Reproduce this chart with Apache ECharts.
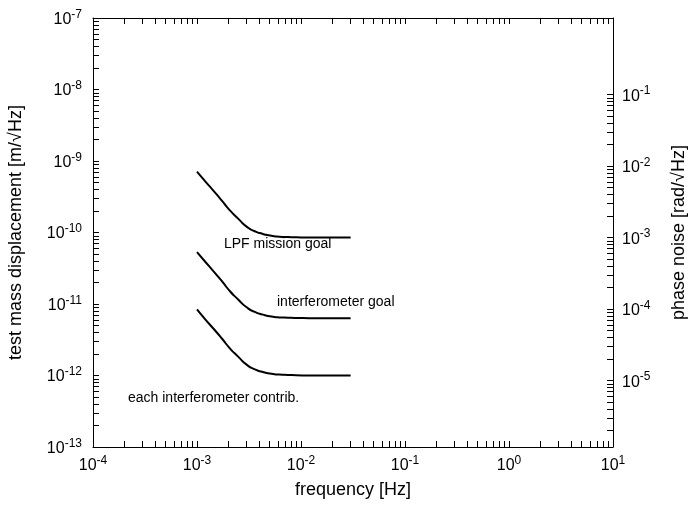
<!DOCTYPE html>
<html>
<head>
<meta charset="utf-8">
<title>Displacement noise requirements</title>
<script src="https://cdn.jsdelivr.net/npm/echarts@6/dist/echarts.min.js"></script>
<style>
  html, body { margin: 0; padding: 0; background: #fff; }
  #chart { width: 688px; height: 505px; }
</style>
</head>
<body>
<div id="chart"></div>
<script>
// Frequency grid shared by the three requirement curves [Hz]
const freq = [1.0e-3, 1.2e-3, 1.45e-3, 1.75e-3, 2.05e-3, 2.5e-3, 3.0e-3, 3.6e-3, 4.3e-3,
              5.2e-3, 6.2e-3, 7.5e-3, 9.0e-3, 1.2e-2, 1.6e-2, 2.2e-2, 3.0e-2];

// Test mass displacement noise [m/√Hz]
const lpfGoal = [7.1e-10, 5.2e-10, 3.8e-10, 2.75e-10, 2.07e-10, 1.55e-10, 1.21e-10, 1.04e-10, 9.55e-11,
                 9.0e-11, 8.75e-11, 8.65e-11, 8.58e-11, 8.52e-11, 8.5e-11, 8.5e-11, 8.5e-11];
const ifoGoal = [5.3e-11, 3.9e-11, 2.83e-11, 2.05e-11, 1.54e-11, 1.15e-11, 9.0e-12, 7.75e-12, 7.1e-12,
                 6.7e-12, 6.5e-12, 6.43e-12, 6.38e-12, 6.33e-12, 6.3e-12, 6.3e-12, 6.3e-12];
const ifoContrib = [8.4e-12, 6.1e-12, 4.47e-12, 3.24e-12, 2.44e-12, 1.82e-12, 1.42e-12, 1.22e-12, 1.12e-12,
                    1.06e-12, 1.03e-12, 1.02e-12, 1.01e-12, 1.0e-12, 1.0e-12, 1.0e-12, 1.0e-12];

// Decade exponents used for tick labels
const freqDecades = [-4, -3, -2, -1, 0, 1];
const dispDecades = [-13, -12, -11, -10, -9, -8, -7];
const phaseDecades = [-5, -4, -3, -2, -1];

// Phase noise = displacement × 4π/λ (λ = 1064 nm)
const radPerMeter = 4 * Math.PI / 1.064e-6;

const FONT = '"Liberation Sans", Arial, Helvetica, sans-serif';

// 1..9 × 10^d ticks for every decade from lo to hi, plus 10^hi itself
function logTicks(lo, hi, fromMult) {
  const out = [];
  for (let d = lo; d < hi; d++) {
    for (let m = (d === lo && fromMult) ? fromMult : 1; m <= 9; m++) out.push(m * Math.pow(10, d));
  }
  out.push(Math.pow(10, hi));
  return out;
}
const pow10 = arr => arr.map(e => Math.pow(10, e));

const labelFmt = v => '{b|10}{s|' + Math.round(Math.log10(v)) + '}';
const labelRich = {
  b: { fontSize: 16, fontFamily: FONT, color: '#000', verticalAlign: 'bottom' },
  s: { fontSize: 12, fontFamily: FONT, color: '#000', verticalAlign: 'bottom', padding: [0, 0, 7, 0] }
};

const lineStyle = { color: '#000', width: 1 };
const tickStyle = { color: '#000', width: 1 };

const xMin = Math.pow(10, freqDecades[0]);
const xMax = Math.pow(10, freqDecades[freqDecades.length - 1]);
const yMin = Math.pow(10, dispDecades[0]);
const yMax = Math.pow(10, dispDecades[dispDecades.length - 1]);

const chart = echarts.init(document.getElementById('chart'), null, { renderer: 'canvas' });

function curve(name, values) {
  return {
    name: name,
    type: 'line',
    xAxisIndex: 0,
    yAxisIndex: 0,
    data: freq.map((f, i) => [f, values[i]]),
    showSymbol: false,
    smooth: 0.7,
    lineStyle: { color: '#000', width: 2 },
    silent: true,
    animation: false
  };
}

chart.setOption({
  animation: false,
  backgroundColor: '#fff',
  textStyle: { fontFamily: FONT },
  grid: { left: 93, right: 75, top: 18, bottom: 58, containLabel: false, outerBoundsMode: 'none' },
  xAxis: [
    {
      type: 'log', logBase: 10, min: xMin, max: xMax, position: 'bottom',
      name: 'frequency [Hz]', nameLocation: 'middle', nameGap: 34,
      nameTextStyle: { fontSize: 18, fontFamily: FONT, color: '#000' },
      axisLine: { show: true, lineStyle: lineStyle },
      axisTick: { show: true, inside: true, length: 6, lineStyle: tickStyle,
                  customValues: logTicks(freqDecades[0], freqDecades[freqDecades.length - 1]) },
      minorTick: { show: false },
      splitLine: { show: false },
      axisLabel: { show: true, margin: 8, formatter: labelFmt, rich: labelRich,
                   customValues: pow10(freqDecades) }
    },
    {
      type: 'log', logBase: 10, min: xMin, max: xMax, position: 'top',
      axisLine: { show: true, lineStyle: lineStyle },
      axisTick: { show: true, inside: true, length: 6, lineStyle: tickStyle,
                  customValues: logTicks(freqDecades[0], freqDecades[freqDecades.length - 1]) },
      splitLine: { show: false },
      axisLabel: { show: false }
    }
  ],
  yAxis: [
    {
      type: 'log', logBase: 10, min: yMin, max: yMax, position: 'left',
      name: 'test mass displacement [m/√Hz]', nameLocation: 'middle', nameGap: 68,
      nameTextStyle: { fontSize: 18, fontFamily: FONT, color: '#000' },
      axisLine: { show: true, lineStyle: lineStyle },
      axisTick: { show: true, inside: true, length: 6, lineStyle: tickStyle,
                  customValues: logTicks(dispDecades[0], dispDecades[dispDecades.length - 1]) },
      splitLine: { show: false },
      axisLabel: { show: true, margin: 11, formatter: labelFmt, rich: labelRich,
                   customValues: pow10(dispDecades) }
    },
    {
      type: 'log', logBase: 10, min: yMin * radPerMeter, max: yMax * radPerMeter, position: 'right',
      name: 'phase noise [rad/√Hz]', nameLocation: 'middle', nameGap: 57,
      nameTextStyle: { fontSize: 18, fontFamily: FONT, color: '#000' },
      axisLine: { show: true, lineStyle: lineStyle },
      axisTick: { show: true, inside: true, length: 6, lineStyle: tickStyle,
                  customValues: logTicks(phaseDecades[0] - 1, phaseDecades[phaseDecades.length - 1], 2) },
      splitLine: { show: false },
      axisLabel: { show: true, margin: 9, formatter: labelFmt, rich: labelRich,
                   customValues: pow10(phaseDecades) }
    }
  ],
  graphic: [
    { type: 'text', left: 224, top: 237, silent: true,
      style: { text: 'LPF mission goal', font: '14px ' + FONT, fill: '#000' } },
    { type: 'text', left: 277, top: 295, silent: true,
      style: { text: 'interferometer goal', font: '14px ' + FONT, fill: '#000' } },
    { type: 'text', left: 128, top: 391, silent: true,
      style: { text: 'each interferometer contrib.', font: '14px ' + FONT, fill: '#000' } }
  ],
  series: [
    curve('LPF mission goal', lpfGoal),
    curve('interferometer goal', ifoGoal),
    curve('each interferometer contrib.', ifoContrib)
  ]
});
</script>
</body>
</html>
